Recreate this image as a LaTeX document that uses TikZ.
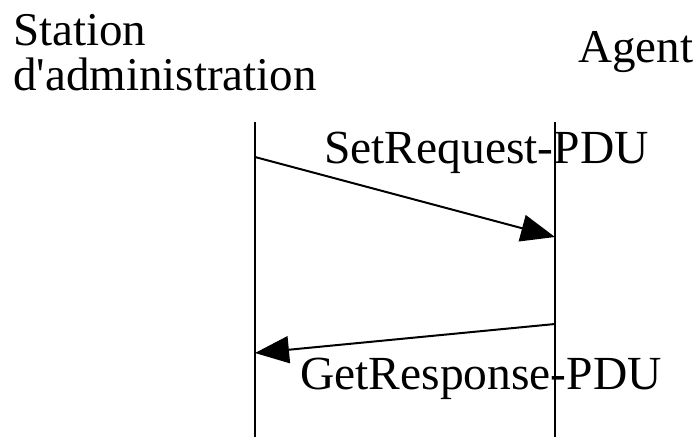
\documentclass[tikz,border=0pt]{standalone}
\usepackage{fontspec}
\setmainfont{Liberation Serif}
\usepackage{tikz}
\usetikzlibrary{arrows.meta}

\begin{document}
\begin{tikzpicture}[
  x=1pt, y=-1pt,
  actor/.style={inner sep=0pt, anchor=base west, align=left,
    font=\fontsize{47}{45}\selectfont},
  msglabel/.style={inner sep=0pt, anchor=base west,
    font=\fontsize{47.5}{45}\selectfont},
  lifeline/.style={line width=2pt},
  msg/.style={line width=2pt, -{Triangle[length=34pt, width=27pt]}},
]
\useasboundingbox (0,0) rectangle (698,437);

% ===== Actors =====
\node[actor] (station) at (13,90) {Station\\d\textquotesingle administration};
\node[actor] (agent) at (578,62) {Agent};

% ===== Lifelines =====
\coordinate (sTop) at (255,122);
\coordinate (sBot) at (255,437);
\coordinate (aTop) at (555,122);
\coordinate (aBot) at (555,437);
\draw[lifeline] (sTop) -- (sBot);
\draw[lifeline] (aTop) -- (aBot);

% ===== Messages =====
\coordinate (req1) at (255,157);
\coordinate (req2) at (555,237);
\coordinate (resp1) at (555,324);
\coordinate (resp2) at (255,353);
\draw[msg] (req1) -- (req2);
\draw[msg] (resp1) -- (resp2);

\node[msglabel] (setreq) at (324,163) {SetRequest-PDU};
\node[msglabel] (getresp) at (300,389) {GetResponse-PDU};

\end{tikzpicture}
\end{document}
